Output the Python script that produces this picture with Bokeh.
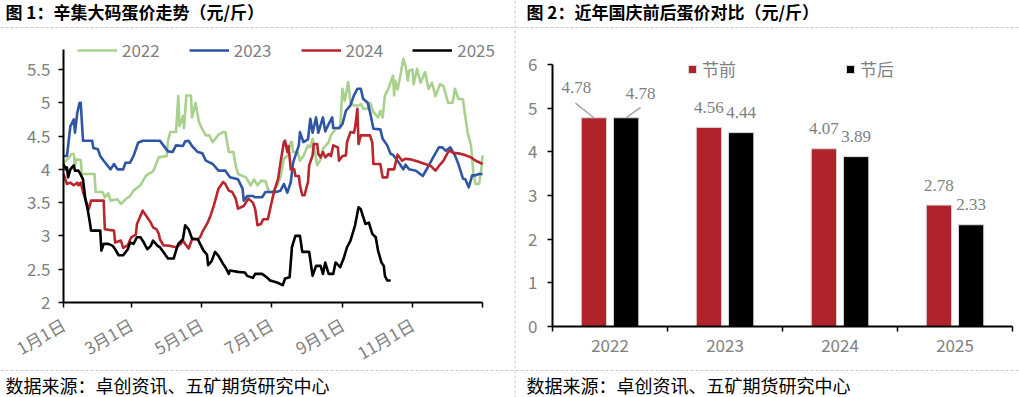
import math
import numpy as np
from bokeh.plotting import figure
from bokeh.models import (ColumnDataSource, Range1d, FixedTicker, NumeralTickFormatter, LinearAxis,
                          Legend, LegendItem, Label, LabelSet, Span)
from bokeh.embed import file_html
from bokeh.resources import INLINE

# ---------------- data: figure 1 (day of year, 0 = Jan 1; price 元/斤) ----------------
d2022 = [0, 4, 7, 9, 10, 11, 15, 16, 27, 28, 34, 36, 39, 41, 47, 50, 54, 58, 61, 67, 72, 78, 80, 83, 90, 91, 93,
         98, 100, 101, 104, 105, 107, 111, 112, 115, 118, 121, 124, 127, 130, 132, 135, 139, 141, 144, 148, 150,
         152, 159, 163, 166, 169, 172, 176, 179, 182, 186, 189, 192, 195, 198, 199, 200, 204, 206, 209, 213, 215,
         217, 221, 224, 226, 231, 233, 237, 241, 243, 245, 248, 250, 253, 257, 259, 261, 265, 267, 270, 274, 276,
         278, 280, 283, 287, 288, 289, 291, 294, 296, 298, 300, 301, 304, 305, 308, 311, 315, 318, 321, 324, 328,
         331, 335, 339, 341, 344, 348, 349, 352, 355, 357, 359, 362, 364, 365]
v2022 = [4.10, 4.16, 4.23, 4.23, 4.05, 4.15, 4.14, 3.93, 3.93, 3.66, 3.66, 3.58, 3.64, 3.53, 3.55, 3.48, 3.55,
         3.60, 3.68, 3.76, 3.91, 3.97, 4.05, 4.18, 4.20, 4.43, 4.56, 4.56, 5.10, 4.65, 4.80, 4.62, 5.11, 5.11,
         4.78, 5.00, 4.71, 4.60, 4.51, 4.51, 4.41, 4.45, 4.52, 4.56, 4.56, 4.26, 4.26, 4.06, 3.93, 3.88, 3.76,
         3.85, 3.76, 3.83, 3.82, 3.66, 3.66, 3.75, 3.88, 4.16, 4.20, 4.41, 4.41, 4.26, 4.26, 4.13, 4.20, 4.36,
         4.33, 4.46, 4.06, 4.15, 4.31, 4.41, 4.51, 4.61, 4.62, 5.21, 5.03, 5.31, 5.00, 4.96, 4.96, 4.98, 4.91,
         4.91, 5.00, 4.86, 4.78, 4.88, 4.78, 5.11, 5.21, 5.41, 5.11, 5.33, 5.20, 5.46, 5.66, 5.55, 5.33, 5.48,
         5.50, 5.28, 5.51, 5.30, 5.46, 5.21, 5.30, 5.10, 5.28, 5.25, 5.00, 5.00, 5.21, 5.06, 5.05, 4.91, 4.56,
         4.36, 3.95, 3.78, 3.78, 4.00, 4.21]

d2023 = [0, 3, 6, 9, 10, 12, 14, 15, 17, 25, 26, 30, 32, 35, 41, 44, 47, 52, 54, 58, 61, 65, 69, 84, 87, 91, 95,
         98, 104, 106, 109, 112, 117, 121, 124, 130, 135, 141, 145, 152, 156, 157, 160, 165, 167, 173, 176, 185,
         189, 192, 195, 198, 200, 205, 206, 209, 213, 215, 217, 220, 222, 226, 228, 231, 234, 235, 240, 243, 246,
         250, 253, 256, 259, 261, 265, 267, 270, 276, 278, 282, 285, 287, 291, 296, 298, 301, 307, 313, 318, 322,
         327, 330, 333, 337, 341, 344, 348, 350, 353, 355, 356, 359, 362, 365]
v2023 = [4.20, 4.20, 4.65, 4.75, 4.55, 4.85, 5.00, 5.00, 4.43, 4.43, 4.32, 4.30, 4.20, 4.13, 4.00, 4.08, 4.00,
         4.00, 4.10, 4.10, 4.20, 4.40, 4.43, 4.43, 4.36, 4.27, 4.26, 4.36, 4.35, 4.42, 4.43, 4.35, 4.26, 4.24,
         4.13, 4.08, 3.98, 3.98, 3.88, 3.85, 3.71, 3.53, 3.60, 3.60, 3.58, 3.58, 3.66, 3.66, 3.68, 3.78, 3.65,
         3.81, 4.10, 4.36, 4.56, 4.41, 4.45, 4.76, 4.55, 4.78, 4.55, 4.78, 4.57, 4.68, 4.78, 4.62, 4.62, 4.68,
         4.88, 4.96, 5.11, 5.21, 5.21, 5.06, 5.00, 4.86, 4.61, 4.60, 4.46, 4.36, 4.23, 4.22, 4.13, 4.00, 4.07,
         4.00, 3.98, 3.90, 4.05, 4.18, 4.33, 4.33, 4.28, 4.33, 4.21, 4.08, 3.86, 3.85, 3.73, 3.85, 3.91, 3.91,
         3.93, 3.93]

d2024 = [0, 3, 6, 9, 12, 13, 15, 17, 20, 22, 24, 35, 36, 44, 45, 50, 52, 56, 59, 63, 64, 67, 69, 71, 76, 78, 81,
         83, 84, 87, 93, 98, 102, 104, 106, 109, 112, 117, 119, 121, 125, 128, 131, 135, 139, 141, 144, 147, 150,
         152, 157, 161, 165, 167, 169, 172, 174, 178, 182, 184, 187, 189, 192, 193, 195, 196, 198, 201, 202, 205,
         206, 208, 210, 212, 213, 214, 217, 218, 221, 222, 224, 226, 228, 231, 233, 235, 239, 240, 243, 246, 247,
         250, 253, 254, 256, 257, 259, 267, 269, 270, 276, 278, 282, 283, 288, 291, 295, 298, 302, 308, 315, 320,
         324, 327, 331, 335, 337, 339, 344, 349, 355, 359, 363, 365]
v2024 = [3.93, 3.78, 3.80, 3.76, 3.80, 3.76, 3.80, 3.66, 3.50, 3.40, 3.53, 3.53, 3.10, 3.08, 2.90, 2.93, 2.82,
         2.86, 2.98, 3.02, 3.18, 3.30, 3.38, 3.33, 3.20, 3.13, 3.10, 3.03, 2.95, 2.86, 2.85, 2.83, 2.88, 2.93,
         2.88, 2.81, 2.95, 2.95, 2.98, 3.06, 3.18, 3.30, 3.46, 3.71, 3.81, 3.78, 3.68, 3.66, 3.56, 3.41, 3.45,
         3.56, 3.50, 3.40, 3.16, 3.18, 3.25, 3.25, 3.56, 3.70, 3.86, 4.10, 4.41, 4.43, 4.26, 4.35, 4.00, 4.00,
         3.90, 3.90, 3.76, 3.61, 3.61, 3.75, 3.81, 4.06, 4.21, 4.38, 4.38, 4.23, 4.18, 4.26, 4.18, 4.23, 4.20,
         4.36, 4.33, 4.13, 4.20, 4.21, 4.41, 4.56, 4.55, 4.63, 4.91, 4.38, 4.51, 4.51, 4.40, 4.08, 4.08, 3.88,
         3.88, 4.00, 4.00, 4.22, 4.13, 4.16, 4.15, 4.12, 4.08, 4.05, 3.98, 4.05, 4.13, 4.26, 4.28, 4.25, 4.24,
         4.22, 4.18, 4.13, 4.10, 4.08]

d2025 = [0, 2, 3, 4, 6, 9, 10, 13, 15, 17, 19, 21, 23, 24, 32, 33, 35, 39, 43, 45, 48, 52, 56, 58, 61, 64, 67, 70,
         73, 76, 78, 82, 84, 87, 91, 96, 98, 100, 104, 106, 109, 112, 117, 119, 122, 125, 126, 129, 132, 135, 139,
         141, 144, 145, 152, 158, 160, 165, 167, 173, 177, 180, 186, 191, 193, 197, 199, 202, 206, 208, 214, 217,
         220, 224, 226, 228, 231, 235, 237, 240, 241, 244, 247, 250, 254, 257, 259, 263, 266, 269, 272, 274, 277,
         279, 280, 282, 285]
v2025 = [4.08, 4.00, 4.03, 3.88, 4.00, 4.06, 3.98, 3.98, 3.92, 3.85, 3.56, 3.40, 3.20, 3.08, 3.08, 2.78, 2.88,
         2.88, 2.85, 2.80, 2.71, 2.71, 2.80, 2.90, 2.88, 2.98, 2.98, 2.90, 2.80, 2.85, 2.93, 2.85, 2.83, 2.76,
         2.66, 2.66, 2.78, 2.88, 2.95, 3.16, 3.10, 2.96, 2.95, 2.88, 2.78, 2.72, 2.56, 2.62, 2.76, 2.70, 2.58,
         2.53, 2.43, 2.48, 2.46, 2.45, 2.40, 2.37, 2.43, 2.43, 2.38, 2.33, 2.30, 2.26, 2.36, 2.38, 2.83, 3.00,
         3.00, 2.76, 2.76, 2.40, 2.55, 2.55, 2.43, 2.60, 2.43, 2.43, 2.60, 2.55, 2.53, 2.66, 2.83, 2.93, 3.16,
         3.43, 3.40, 3.18, 3.20, 3.03, 2.98, 2.78, 2.60, 2.55, 2.40, 2.33, 2.33]

series_names = ["2022", "2023", "2024", "2025"]
series_days = [d2022, d2023, d2024, d2025]
series_vals = [v2022, v2023, v2024, v2025]

tick_days = [0, 59, 120, 181, 243, 304, 365]
tick_labels = ["1月1日", "3月1日", "5月1日", "7月1日", "9月1日", "11月1日", ""]
y1_ticks = [2, 2.5, 3, 3.5, 4, 4.5, 5, 5.5]

# ---------------- data: figure 2 ----------------
years = ["2022", "2023", "2024", "2025"]
pre_holiday = [4.78, 4.56, 4.07, 2.78]
post_holiday = [4.78, 4.44, 3.89, 2.33]

# ---------------- styles / layout (page pixels) ----------------
CJK = "Noto Sans CJK SC"
GREY = "#7f7f7f"
DASH = "#c8c8c8"
line_colors = ["#a9d18e", "#2f55a4", "#b9262d", "#000000"]
RED = "#b0232a"
W, H = 1019, 397
L1, R1, T1, B1 = 63, 482, 49, 302      # chart 1 plot area
L2, R2, T2, B2 = 552, 1012, 64, 326    # chart 2 plot area
X1, Y1 = (0, 365), (2, 5.8)
X2, Y2 = (0, 4), (0, 6)


def page_range(lo_px, hi_px, lo_val, hi_val, total):
    k = (hi_val - lo_val) / (hi_px - lo_px)
    return Range1d(lo_val - lo_px * k, hi_val + (total - hi_px) * k)


def style_axis(ax, size="17px"):
    ax.axis_line_color = "black"
    ax.axis_line_width = 2
    ax.major_tick_line_color = "black"
    ax.major_tick_line_width = 1.5
    ax.major_tick_in = 0
    ax.major_tick_out = 5
    ax.minor_tick_line_color = None
    ax.major_label_text_color = GREY
    ax.major_label_text_font = CJK
    ax.major_label_text_font_size = size


def add_text(p, x, y, text, size="17px", bold=False):
    p.add_layout(Label(x=x, y=H - y, x_units="screen", y_units="screen", text=text,
                       text_font=CJK, text_font_size=size, text_color="black",
                       text_font_style="bold" if bold else "normal",
                       text_baseline="middle", text_align="left"))


p = figure(width=W, height=H, output_backend="svg", toolbar_location=None,
           x_axis_type=None, y_axis_type=None, min_border=0,
           x_range=page_range(L1, R1, X1[0], X1[1], W),
           y_range=page_range(H - B1, H - T1, Y1[0], Y1[1], H))
p.extra_x_ranges = {"x2": page_range(L2, R2, X2[0], X2[1], W)}
p.extra_y_ranges = {"y2": page_range(H - B2, H - T2, Y2[0], Y2[1], H)}
p.title.visible = False
p.outline_line_color = None
p.background_fill_color = "white"
p.border_fill_color = "white"

# ---------- separators ----------
for yy in (27, 370):
    p.add_layout(Span(location=H - yy, location_units="screen", dimension="width",
                      line_color=DASH, line_width=1, line_dash="3 2"))
p.add_layout(Span(location=514.5, location_units="screen", dimension="height",
                  line_color=DASH, line_width=1, line_dash="3 2"))

# ================= chart 1 =================
renderers = []
for name, d, v, c in zip(series_names, series_days, series_vals, line_colors):
    src = ColumnDataSource(dict(x=d, y=v))
    r = p.line("x", "y", source=src, line_color=c, line_width=2.6, line_join="round")
    renderers.append((name, r))

yax = LinearAxis(fixed_location=X1[0], bounds=Y1)
style_axis(yax)
yax.ticker = FixedTicker(ticks=y1_ticks, minor_ticks=[])
yax.formatter = NumeralTickFormatter(format="0.[0]")
yax.major_label_standoff = 8
p.add_layout(yax, "left")

xax = LinearAxis(fixed_location=Y1[0], bounds=X1)
style_axis(xax, "17px")
xax.ticker = FixedTicker(ticks=tick_days, minor_ticks=[])
xax.major_label_overrides = dict(zip(tick_days, tick_labels))
xax.major_label_orientation = math.pi / 6
xax.major_label_standoff = 15
p.add_layout(xax, "below")

leg1 = Legend(items=[LegendItem(label=n, renderers=[r]) for n, r in renderers],
              orientation="horizontal", location=(77, H - 62),
              glyph_width=40, glyph_height=20, label_standoff=5, spacing=29,
              padding=0, margin=0, background_fill_alpha=0, border_line_color=None,
              label_text_font=CJK, label_text_font_size="17px", label_text_color=GREY)
p.add_layout(leg1, "center")

add_text(p, 5, 11, "图 1：辛集大码蛋价走势（元/斤）", bold=True)
add_text(p, 5, 384, "数据来源：卓创资讯、五矿期货研究中心", size="18px")

# ================= chart 2 =================
BAR_OFF, BAR_W = 0.14, 0.22
cx = np.arange(len(years)) + 0.5
bars = ColumnDataSource(dict(x_pre=cx - BAR_OFF, x_post=cx + BAR_OFF, pre=pre_holiday, post=post_holiday))
r_pre = p.vbar(x="x_pre", top="pre", width=BAR_W, source=bars, fill_color=RED,
               line_color="#d9d9d9", line_width=1, x_range_name="x2", y_range_name="y2")
r_post = p.vbar(x="x_post", top="post", width=BAR_W, source=bars, fill_color="black",
                line_color="#d9d9d9", line_width=1, x_range_name="x2", y_range_name="y2")

lab_x, lab_y, lab_t = [], [], []
for i in range(len(years)):
    for xx, vv in ((cx[i] - BAR_OFF, pre_holiday[i]), (cx[i] + BAR_OFF, post_holiday[i])):
        lab_x.append(xx)
        lab_y.append(vv)
        lab_t.append(f"{vv:.2f}")
lab_dx = [-17.5, 14.5] + [0] * 6          # 2022 labels dragged aside (leader lines)
lab_dy = [30.6, 24.6] + [20] * 6
labels = ColumnDataSource(dict(x=lab_x, y=lab_y, t=lab_t, dx=lab_dx, dy=lab_dy))
p.add_layout(LabelSet(x="x", y="y", text="t", x_offset="dx", y_offset="dy", source=labels,
                      x_range_name="x2", y_range_name="y2",
                      text_font=CJK, text_font_size="17px", text_color=GREY,
                      text_align="center", text_baseline="middle"))

px_x = (R2 - L2) / (X2[1] - X2[0])
px_y = (B2 - T2) / (Y2[1] - Y2[0])
lead_dx = [-18.5, 14.5]
lead_dy = [14.6, 10.3]
lead = ColumnDataSource(dict(
    x0=lab_x[:2], y0=lab_y[:2],
    x1=[lab_x[k] + lead_dx[k] / px_x for k in range(2)],
    y1=[lab_y[k] + lead_dy[k] / px_y for k in range(2)]))
p.segment("x0", "y0", "x1", "y1", source=lead, line_color="#a6a6a6", line_width=1.5,
          x_range_name="x2", y_range_name="y2")

yax2 = LinearAxis(x_range_name="x2", y_range_name="y2", fixed_location=X2[0], bounds=Y2)
style_axis(yax2)
yax2.ticker = FixedTicker(ticks=list(range(0, 7)), minor_ticks=[])
yax2.major_label_standoff = 10
p.add_layout(yax2, "left")

xax2 = LinearAxis(x_range_name="x2", y_range_name="y2", fixed_location=Y2[0], bounds=X2)
style_axis(xax2)
xax2.ticker = FixedTicker(ticks=[float(c) for c in cx], minor_ticks=list(range(0, 5)))
xax2.major_label_overrides = {float(c): y for c, y in zip(cx, years)}
xax2.major_tick_line_color = None
xax2.minor_tick_line_color = "black"
xax2.minor_tick_line_width = 1.5
xax2.minor_tick_in = 0
xax2.minor_tick_out = 5
xax2.major_label_standoff = 7
p.add_layout(xax2, "below")

leg2 = Legend(items=[LegendItem(label="节前", renderers=[r_pre]), LegendItem(label="节后", renderers=[r_post])],
              orientation="horizontal", location=(687, H - 81),
              glyph_width=10, glyph_height=10, label_standoff=5, spacing=109, label_height=20,
              padding=0, margin=0, background_fill_alpha=0, border_line_color=None,
              label_text_font=CJK, label_text_font_size="17px", label_text_color=GREY)
p.add_layout(leg2, "center")

add_text(p, 526, 11, "图 2：近年国庆前后蛋价对比（元/斤）", bold=True)
add_text(p, 526, 384, "数据来源：卓创资讯、五矿期货研究中心", size="18px")

open("out.html", "w").write(file_html(p, INLINE))
